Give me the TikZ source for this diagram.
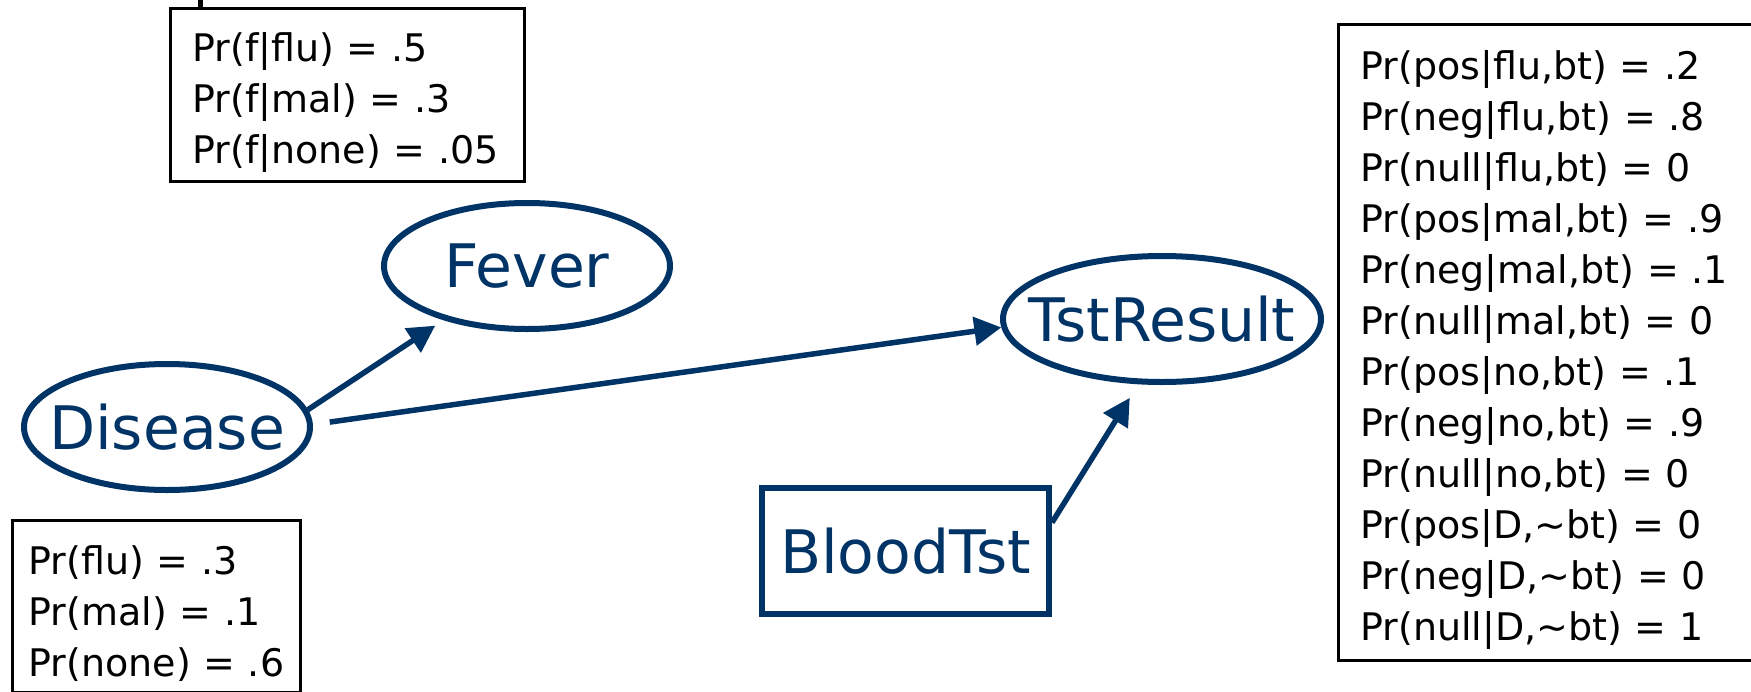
\documentclass[tikz,border=0pt]{standalone}
\usepackage{fontspec}
\setmainfont{DejaVu Sans}
\usepackage{tikz}
\usetikzlibrary{positioning}
\usetikzlibrary{arrows.meta}
\usetikzlibrary{shapes.geometric}
\usepackage{mathtools}
\definecolor{navy}{RGB}{0,51,102}

\begin{document}
\begin{tikzpicture}[x=1pt, y=1pt, node distance=200pt,
	var/.style={ellipse, draw=navy, line width=6pt, text=navy, font=\fontsize{60}{72}\selectfont, inner sep=0pt, minimum width=286pt, minimum height=126pt},
	obs/.style={rectangle, draw=navy, line width=6pt, text=navy, font=\fontsize{60}{72}\selectfont, inner sep=0pt, minimum width=287pt, minimum height=126pt},
	cpt/.style={rectangle, draw, line width=3pt, font=\fontsize{38}{51}\selectfont, align=left, inner xsep=22pt, inner ysep=0pt, anchor=north west, execute at begin node={\rule{0pt}{43pt}}},
	link/.style={draw=navy, line width=5.5pt, -{Triangle[length=27pt,width=28pt]}}]
		\useasboundingbox (0,0) rectangle (1751,-691);
		\node (dis) [var] at (167,-427) {\clap{Disease}};
		\node (fev) [var, right of = dis, xshift=160pt, yshift=161pt] {\clap{Fever}};
		\node (tst) [var, right of = dis, xshift=795pt, yshift=108pt, minimum width=318pt] {\clap{TstResult}};
		\node (bt) [obs, below of = tst, xshift=-256.5pt, yshift=-32pt] {BloodTst};
		\node (pfev) [above of = fev, cpt, xshift=-358pt, yshift=59pt, text width=310pt, minimum height=173pt] {Pr(f|flu) = .5\\Pr(f|mal) = .3\\Pr(f|none) = .05};
		\node (pdis) [below of = dis, cpt, xshift=-156pt, yshift=108pt, inner xsep=16pt, text width=256pt, minimum height=172pt] {Pr(flu) = .3\\Pr(mal) = .1\\Pr(none) = .6};
		\node (ptst) [above of = tst, cpt, xshift=175pt, yshift=96pt, text width=380pt, minimum height=636pt] {Pr(pos|flu,bt) = .2\\Pr(neg|flu,bt) = .8\\Pr(null|flu,bt) = 0\\Pr(pos|mal,bt) = .9\\Pr(neg|mal,bt) = .1\\Pr(null|mal,bt) = 0\\Pr(pos|no,bt) = .1\\Pr(neg|no,bt) = .9\\Pr(null|no,bt) = 0\\Pr(pos|D,\textasciitilde bt) = 0\\Pr(neg|D,\textasciitilde bt) = 0\\Pr(null|D,\textasciitilde bt) = 1};
		\draw [link, shorten >=10pt] (dis.7) -- (fev.213);
		\draw [link, shorten <=17pt] (dis.1) -- (tst.183);
		\draw [link, shorten >=16pt] (bt.11) -- (tst.250);
		\draw [line width=5pt] ([xshift=31pt]pfev.north west) -- ++(0,10);
		\end{tikzpicture}
\end{document}
